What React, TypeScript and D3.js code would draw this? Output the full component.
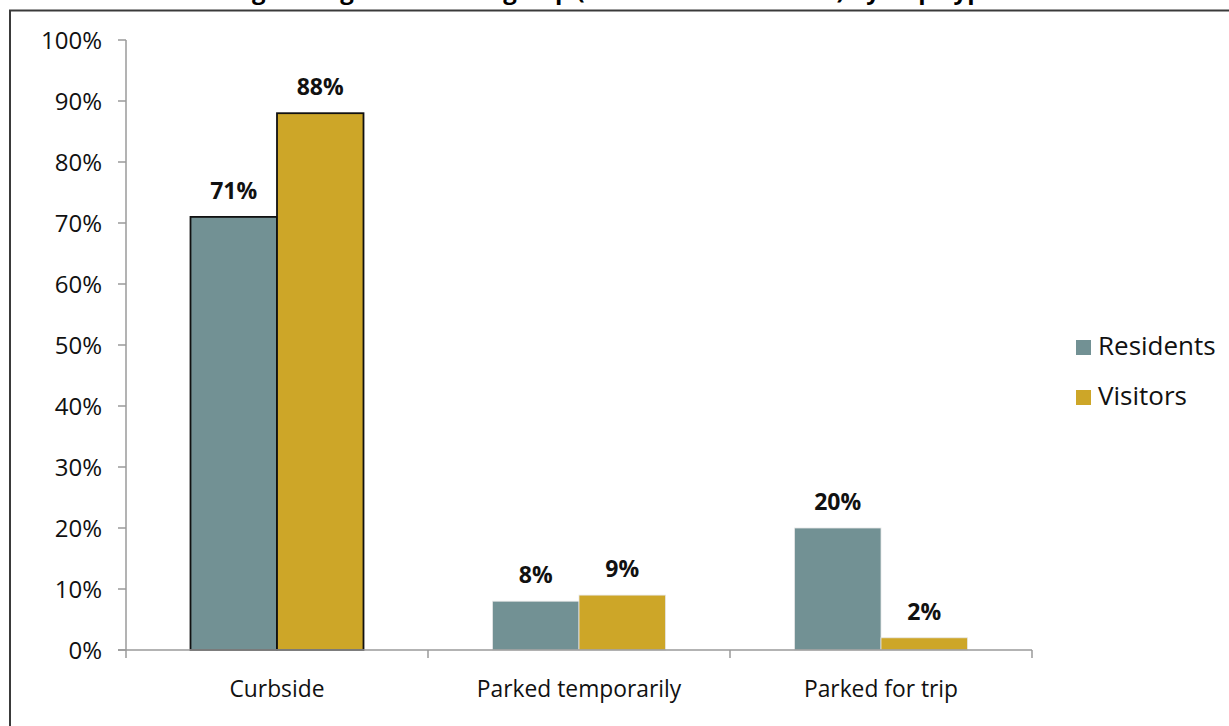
import React from "react";
import * as d3 from "d3";

const categories = ["Curbside", "Parked temporarily", "Parked for trip"];
const seriesNames = ["Residents", "Visitors"];
const residents = [71, 8, 20];
const visitors = [88, 9, 2];
const yTicks = [0, 10, 20, 30, 40, 50, 60, 70, 80, 90, 100];
const outlinedCategories = ["Curbside"];

const COLORS = ["#729194", "#CDA628"];
const FONT = "'Open Sans', Lato, sans-serif";

export default function App() {
  const W = 1229;
  const H = 726;
  const left = 126;
  const right = 1032;
  const top = 40;
  const bottom = 650;

  const x = d3.scaleBand<string>().domain(categories).range([left, right]);
  const y = d3.scaleLinear().domain([0, 100]).range([bottom, top]);
  const barW = 86.5;
  const series = [residents, visitors];

  return (
    <svg
      width={W}
      height={H}
      style={{ position: "absolute", left: 0, top: 0, background: "#fff" }}
      fontFamily={FONT}
    >
      <rect x={0} y={0} width={W} height={H} fill="#fff" />
      {/* title sits above the frame */}
      <text
        x={585}
        y={-1}
        textAnchor="middle"
        fontSize={24}
        fontWeight="bold"
        fill="#000"
      >
        Parking Arrangement during Trip (Residents vs. Visitors) by Trip Type
      </text>
      {/* frame */}
      <path d={`M10,${H + 5} L10,10.5 L${W + 5},10.5`} fill="none" stroke="#3a3a3a" strokeWidth={2} />

      {/* y axis */}
      <line x1={left} x2={left} y1={top} y2={bottom} stroke="#9a9a9a" strokeWidth={1.5} />
      {yTicks.map((t) => (
        <g key={t}>
          <line x1={left - 8} x2={left} y1={y(t)} y2={y(t)} stroke="#9a9a9a" strokeWidth={1.5} />
          <text x={102} y={y(t)} dy="0.36em" textAnchor="end" fontSize={24} fill="#111">
            {t}%
          </text>
        </g>
      ))}

      {/* bars */}
      {categories.map((c, i) => {
        const center = (x(c) as number) + x.bandwidth() / 2;
        const outlined = outlinedCategories.includes(c);
        return (
          <g key={c}>
            {series.map((vals, s) => {
              const v = vals[i];
              const bx = center - barW + s * barW;
              return (
                <g key={s}>
                  <rect
                    x={bx}
                    y={y(v)}
                    width={barW}
                    height={bottom - y(v)}
                    fill={COLORS[s]}
                    stroke={outlined ? "#111" : "#e6e6e6"}
                    strokeWidth={outlined ? 1.8 : 0.8}
                  />
                  <text
                    x={bx + barW / 2}
                    y={y(v) - 18}
                    textAnchor="middle"
                    fontSize={23}
                    fontWeight="bold"
                    fill="#111"
                  >
                    {v}%
                  </text>
                </g>
              );
            })}
          </g>
        );
      })}

      {/* x axis */}
      <line x1={left - 8} x2={right} y1={bottom} y2={bottom} stroke="#9a9a9a" strokeWidth={1.5} />
      {[...categories.map((c) => x(c) as number), right].map((t, i) => (
        <line key={i} x1={t} x2={t} y1={bottom} y2={bottom + 8} stroke="#9a9a9a" strokeWidth={1.5} />
      ))}
      {categories.map((c) => (
        <text
          key={c}
          x={(x(c) as number) + x.bandwidth() / 2}
          y={697}
          textAnchor="middle"
          fontSize={22.8}
          fill="#111"
        >
          {c}
        </text>
      ))}

      {/* legend */}
      {seriesNames.map((n, i) => (
        <g key={n} transform={`translate(1076, ${340 + i * 50})`}>
          <rect x={0} y={0} width={15} height={15} fill={COLORS[i]} />
          <text x={22} y={15} fontSize={26} fill="#111">
            {n}
          </text>
        </g>
      ))}
    </svg>
  );
}
